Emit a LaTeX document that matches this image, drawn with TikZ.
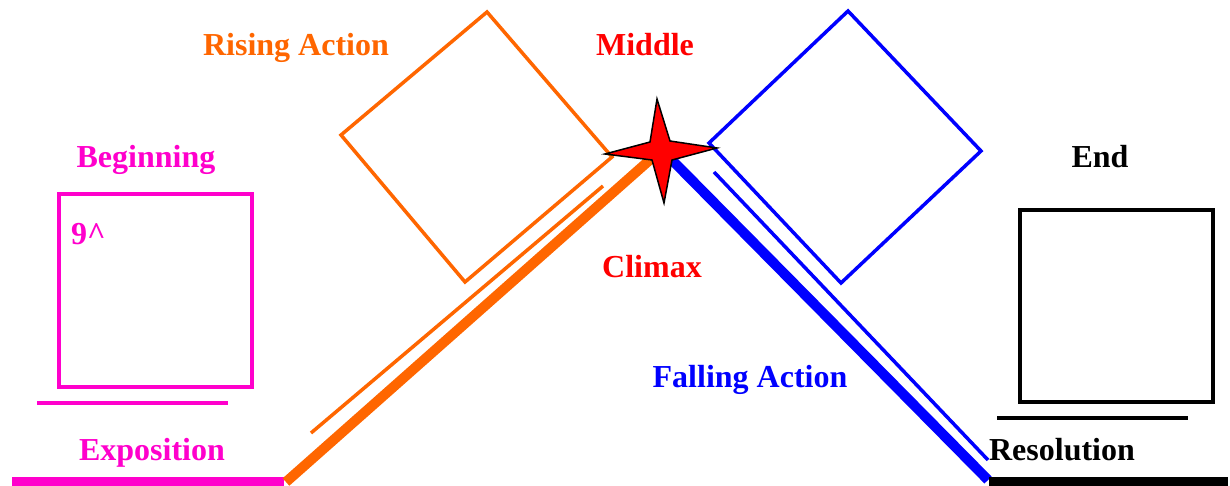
\documentclass[tikz,border=0pt]{standalone}
\usepackage{fontspec}
\setmainfont{Liberation Serif}
\definecolor{mag}{RGB}{255,0,204}
\definecolor{org}{RGB}{255,102,0}
\definecolor{blu}{RGB}{0,0,255}
\definecolor{rd}{RGB}{255,0,0}
\begin{document}
\begin{tikzpicture}[x=1pt,y=-1pt,
  lbl/.style={font=\fontsize{32}{36}\selectfont\bfseries, inner sep=0pt, anchor=center},
  thinln/.style={line width=3.5pt},
  thickln/.style={line width=10pt},
  boxln/.style={line width=3.5pt, line join=miter}]
\useasboundingbox (0,0) rectangle (1230,486);

% labels
\node[lbl, text=org] (rising) at (296,48) {Rising Action};
\node[lbl, text=rd] (middle) at (645,45) {Middle};
\node[lbl, text=mag] (beginning) at (146,160) {Beginning};
\node[lbl, text=black] (end) at (1100,157) {End};
\node[lbl, text=rd] (climax) at (652,267) {Climax};
\node[lbl, text=blu] (falling) at (750,380) {Falling Action};
\node[lbl, text=mag] (exposition) at (152,453) {Exposition};
\node[lbl, text=black] (resolution) at (1062,450) {Resolution};
\node[lbl, text=mag, anchor=north west] (nine) at (71,223) {9\^{}};

% beginning
\draw[boxln, mag] (59,194) rectangle (252,387);
\coordinate (bl1) at (37,403); \coordinate (bl2) at (228,403);
\draw[thinln, mag] (bl1) -- (bl2);
\coordinate (bb1) at (12,481.5); \coordinate (bb2) at (284,481.5);
\draw[thickln, mag] (bb1) -- (bb2);

% rising
\draw[boxln, org] (487,12) -- (612,157) -- (465,282) -- (341,135) -- cycle;
\coordinate (ot1) at (311,433); \coordinate (ot2) at (603,186);
\draw[thinln, org] (ot1) -- (ot2);
\coordinate (oT1) at (286,482); \coordinate (oT2) at (652,158);
\draw[thickln, org] (oT1) -- (oT2);

% falling
\draw[boxln, blu] (848,11) -- (981,151) -- (841,283) -- (709,143) -- cycle;
\coordinate (bt1) at (714,172); \coordinate (bt2) at (988,460);
\draw[thinln, blu] (bt1) -- (bt2);
\coordinate (bT1) at (668,156); \coordinate (bT2) at (988,480);
\draw[thickln, blu] (bT1) -- (bT2);

% end
\draw[boxln, black] (1020,210) rectangle (1213,402);
\coordinate (el1) at (997,418); \coordinate (el2) at (1188,418);
\draw[thinln, black] (el1) -- (el2);
\coordinate (eb1) at (989,481.5); \coordinate (eb2) at (1228,481.5);
\draw[thickln, black] (eb1) -- (eb2);

% star
\draw[fill=rd, draw=black, line width=1.5pt, line join=miter]
  (657,99) -- (670,141) -- (717,148) -- (672,160) -- (664,203) -- (652,160) -- (605,154) -- (650,142) -- cycle;
\end{tikzpicture}
\end{document}
